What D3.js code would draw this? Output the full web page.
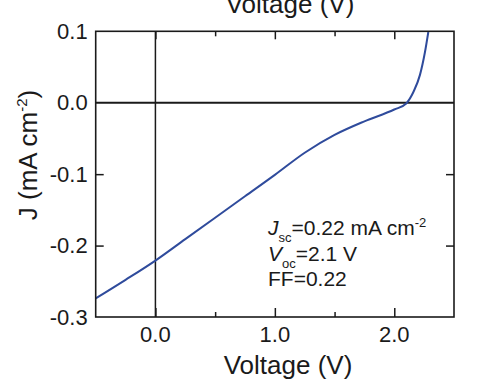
<!DOCTYPE html>
<html>
<head>
<meta charset="utf-8">
<script src="https://cdn.jsdelivr.net/npm/d3@7"></script>
<style>
  body { margin: 0; background: #fff; }
  text { font-family: "Liberation Sans", Arial, sans-serif; fill: #1a1a1a; }
</style>
</head>
<body>
<script>
// J-V curve
const voltage = [-0.5, -0.25, 0, 0.25, 0.5, 0.75, 1.0, 1.25, 1.5, 1.75, 2.0, 2.1, 2.16, 2.215, 2.257, 2.285];
const current = [-0.274, -0.248, -0.221, -0.191, -0.161, -0.131, -0.101, -0.070, -0.045, -0.026, -0.0095, -0.001, 0.015, 0.039, 0.071, 0.099];

const xMajor = [0, 1, 2];
const xMinor = [0.5, 1.5];
const yTicks = [0.1, 0.0, -0.1, -0.2, -0.3];
const yInner = [-0.1, -0.2];

const width = 497;
const height = 384;
const margin = {top: 31.3, right: 43, bottom: 67, left: 95.7};

// plain hyphen for negatives, like the original figure
const fmt = (d) => (d < 0 ? "-" : "") + Math.abs(d).toFixed(1);

let svg = d3.select("body")
  .append("svg")
  .attr("width", width)
  .attr("height", height)

let x = d3.scaleLinear()
  .domain([-0.5, 2.5])
  .range([margin.left, width - margin.right])

let y = d3.scaleLinear()
  .domain([-0.3, 0.1])
  .range([height - margin.bottom, margin.top])

// zero lines
svg.append("line")
  .attr("x1", x(0)).attr("x2", x(0))
  .attr("y1", y(0.1)).attr("y2", y(-0.3))
  .attr("stroke", "#1a1a1a").attr("stroke-width", 1.5)
svg.append("line")
  .attr("x1", x(-0.5)).attr("x2", x(2.5))
  .attr("y1", y(0)).attr("y2", y(0))
  .attr("stroke", "#1a1a1a").attr("stroke-width", 1.8)

// curve
let line = d3.line()
  .x((d, i) => x(voltage[i]))
  .y((d) => y(d))
  .curve(d3.curveMonotoneX)

svg.append("path")
  .datum(current)
  .attr("fill", "none")
  .attr("stroke", "#2f4b9c")
  .attr("stroke-width", 2)
  .attr("d", line)

// frame
svg.append("rect")
  .attr("x", x(-0.5)).attr("y", y(0.1))
  .attr("width", x(2.5) - x(-0.5))
  .attr("height", y(-0.3) - y(0.1))
  .attr("fill", "none")
  .attr("stroke", "#1a1a1a")
  .attr("stroke-width", 1.6)

function cleanAxis(g) {
  g.select(".domain").remove()
  g.selectAll("line").attr("stroke", "#1a1a1a").attr("stroke-width", 1.5)
}

// inward ticks, bottom and top
svg.append("g")
  .attr("transform", `translate(0,${y(-0.3)})`)
  .call(d3.axisBottom(x).tickValues(xMajor).tickSize(-9).tickFormat(""))
  .call(cleanAxis)
svg.append("g")
  .attr("transform", `translate(0,${y(-0.3)})`)
  .call(d3.axisBottom(x).tickValues(xMinor).tickSize(-5).tickFormat(""))
  .call(cleanAxis)
svg.append("g")
  .attr("transform", `translate(0,${y(0.1)})`)
  .call(d3.axisTop(x).tickValues(xMajor).tickSize(-8).tickFormat(""))
  .call(cleanAxis)
svg.append("g")
  .attr("transform", `translate(0,${y(0.1)})`)
  .call(d3.axisTop(x).tickValues(xMinor).tickSize(-5).tickFormat(""))
  .call(cleanAxis)

// left and right inward ticks
svg.append("g")
  .attr("transform", `translate(${x(-0.5)},0)`)
  .call(d3.axisLeft(y).tickValues(yInner).tickSize(-8).tickFormat(""))
  .call(cleanAxis)
svg.append("g")
  .attr("transform", `translate(${x(2.5)},0)`)
  .call(d3.axisRight(y).tickValues(yInner).tickSize(-8).tickFormat(""))
  .call(cleanAxis)

// tick labels
svg.append("g")
  .selectAll("text")
  .data(xMajor)
  .enter()
  .append("text")
    .attr("x", (d) => x(d))
    .attr("y", y(-0.3) + 25)
    .attr("text-anchor", "middle")
    .attr("font-size", 22)
    .text(fmt)

svg.append("g")
  .selectAll("text")
  .data(yTicks)
  .enter()
  .append("text")
    .attr("x", x(-0.5) - 8)
    .attr("y", (d) => y(d))
    .attr("dy", "0.35em")
    .attr("text-anchor", "end")
    .attr("font-size", 22)
    .text(fmt)

// axis titles
svg.append("text")
  .attr("x", 288).attr("y", 374)
  .attr("text-anchor", "middle")
  .attr("font-size", 26)
  .text("Voltage (V)")

svg.append("text")
  .attr("x", 290).attr("y", 12.5)
  .attr("text-anchor", "middle")
  .attr("font-size", 26)
  .text("Voltage (V)")

let yLabel = svg.append("text")
  .attr("transform", "translate(37,155) rotate(-90)")
  .attr("text-anchor", "middle")
  .attr("font-size", 26)
yLabel.append("tspan").text("J (mA cm")
yLabel.append("tspan").attr("font-size", 15).attr("dy", -10).text("-2")
yLabel.append("tspan").attr("dy", 10).text(")")

// annotation
let note = svg.append("g").attr("font-size", 21)
let t1 = note.append("text").attr("x", 268).attr("y", 235)
t1.append("tspan").attr("font-style", "italic").text("J")
t1.append("tspan").attr("font-size", 13).attr("dy", 7).text("sc")
t1.append("tspan").attr("dy", -7).text("=0.22 mA cm")
t1.append("tspan").attr("font-size", 13).attr("dy", -8).text("-2")

let t2 = note.append("text").attr("x", 268).attr("y", 261)
t2.append("tspan").attr("font-style", "italic").text("V")
t2.append("tspan").attr("font-size", 13).attr("dy", 7).text("oc")
t2.append("tspan").attr("dy", -7).text("=2.1 V")

note.append("text").attr("x", 268).attr("y", 286).text("FF=0.22")
</script>
</body>
</html>
